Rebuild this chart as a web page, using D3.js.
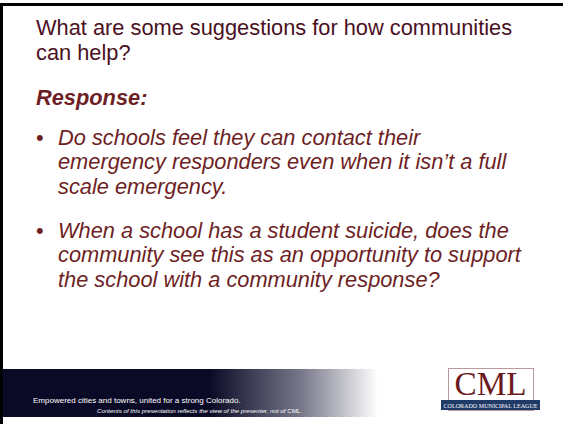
<!DOCTYPE html>
<html><head><meta charset="utf-8">
<script src="https://cdn.jsdelivr.net/npm/d3@7"></script>
<style>html,body{margin:0;padding:0;background:#fff;overflow:hidden}svg{display:block}</style>
</head><body>
<script>
const titleLines = ["What are some suggestions for how communities", "can help?"];
const responseLabel = ["Response:"];
const bullets = [
  ["Do schools feel they can contact their", "emergency responders even when it isn\u2019t a full", "scale emergency."],
  ["When a school has a student suicide, does the", "community see this as an opportunity to support", "the school with a community response?"]
];
const footerLines = ["Empowered cities and towns, united for a strong Colorado.", "Contents of this presentation reflects the view of the presenter, not of CML."];
const logoText = ["CML", "COLORADO MUNICIPAL LEAGUE"];

const W = 563, H = 424;
const svg = d3.select("body").append("svg").attr("width", W).attr("height", H);
const defs = svg.append("defs");
const grad = defs.append("linearGradient").attr("id", "fg").attr("x1", "0").attr("x2", "1").attr("y1", "0").attr("y2", "0");
grad.append("stop").attr("offset", "0").attr("stop-color", "#0a0a26");
grad.append("stop").attr("offset", "0.55").attr("stop-color", "#0a0a26");
grad.append("stop").attr("offset", "0.8").attr("stop-color", "#7a7a8c");
grad.append("stop").attr("offset", "1").attr("stop-color", "#ffffff");

// frame
svg.append("rect").attr("x", 0).attr("y", 3).attr("width", 3).attr("height", H - 3).attr("fill", "#000");
svg.append("rect").attr("x", 0).attr("y", 3).attr("width", W).attr("height", 3).attr("fill", "#000");

// footer band
svg.append("rect").attr("x", 3).attr("y", 369).attr("width", 375).attr("height", 48).attr("fill", "url(#fg)");

const font = "'Liberation Sans', Arial, sans-serif";
const fs = 21.8;

// title
svg.append("g").selectAll("text").data(titleLines).join("text")
  .attr("x", 36).attr("y", (d, i) => 35 + i * 25)
  .attr("font-family", font).attr("font-size", fs).attr("fill", "#4a1022")
  .text(d => d);

// response
svg.append("text").data(responseLabel).attr("x", 36).attr("y", 105)
  .attr("font-family", font).attr("font-size", fs).attr("font-weight", "bold").attr("font-style", "italic")
  .attr("fill", "#6e1f25").text(d => d);

// bullets
const bulletY0 = [145, 238];
const lh = 24.4;
bullets.forEach((lines, bi) => {
  const g = svg.append("g");
  g.append("text").attr("x", 36).attr("y", bulletY0[bi])
    .attr("font-family", font).attr("font-size", fs).attr("fill", "#6e1f25").text("\u2022");
  g.selectAll("text.l").data(lines).join("text").attr("class", "l")
    .attr("x", 58).attr("y", (d, i) => bulletY0[bi] + i * lh)
    .attr("font-family", font).attr("font-size", fs).attr("font-style", "italic")
    .attr("fill", "#6e1f25").text(d => d);
});

// footer texts
svg.append("text").attr("x", 33).attr("y", 403).attr("font-family", font).attr("font-size", 8.0)
  .attr("fill", "#ffffff").text(footerLines[0]);
svg.append("text").attr("x", 97).attr("y", 413).attr("font-family", font).attr("font-size", 6.2)
  .attr("font-style", "italic").attr("fill", "#ffffff").text(footerLines[1]);

// logo
const lg = svg.append("g");
lg.append("rect").attr("x", 448.5).attr("y", 368.5).attr("width", 85).attr("height", 42)
  .attr("fill", "#fff").attr("stroke", "#b89a9c").attr("stroke-width", 1);
lg.append("text").attr("x", 490.5).attr("y", 394.5).attr("text-anchor", "middle")
  .attr("font-family", "'Liberation Serif', 'Times New Roman', serif").attr("font-size", 34)
  .attr("fill", "#6b1a20").attr("textLength", 72).attr("lengthAdjust", "spacingAndGlyphs").text(logoText[0]);
lg.append("rect").attr("x", 441).attr("y", 400).attr("width", 99).attr("height", 10).attr("fill", "#1f3a66");
lg.append("text").attr("x", 490.5).attr("y", 407.9).attr("text-anchor", "middle")
  .attr("font-family", "'Liberation Serif', serif").attr("font-size", 6.2).attr("fill", "#fff")
  .attr("textLength", 94).attr("lengthAdjust", "spacingAndGlyphs").text(logoText[1]);
</script>
</body></html>
